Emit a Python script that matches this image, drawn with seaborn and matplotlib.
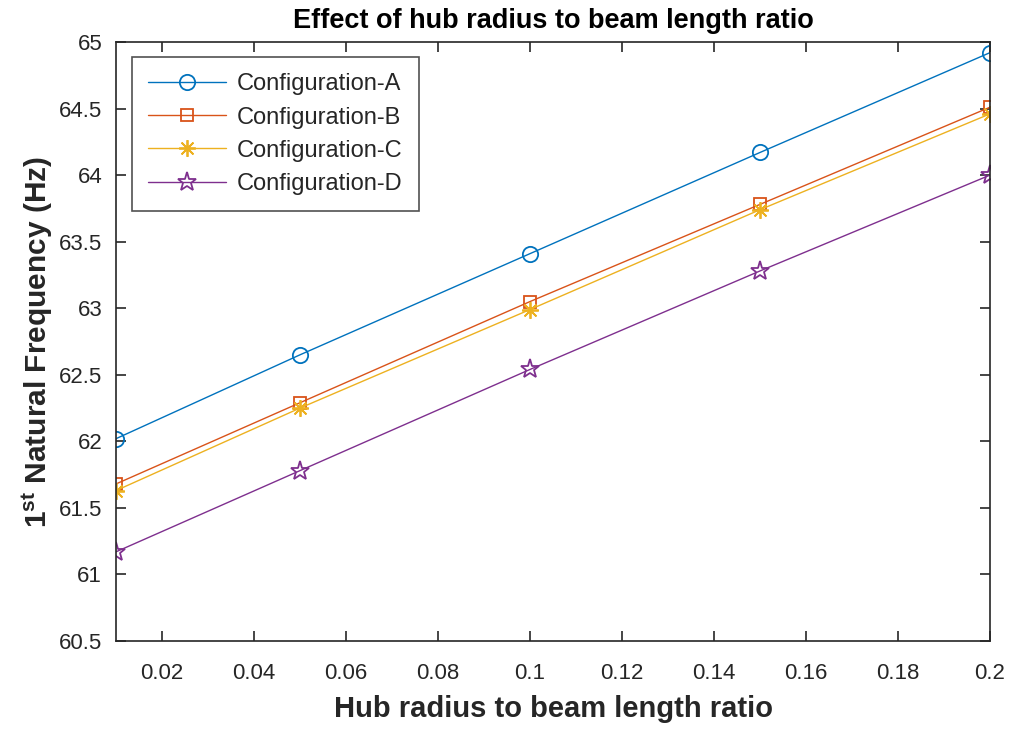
import matplotlib
matplotlib.use("Agg")
import matplotlib.pyplot as plt
import matplotlib.ticker as mticker
import numpy as np
import pandas as pd
import seaborn as sns

# Hub radius to beam length ratio (x) and first natural frequency (Hz) per configuration
ratio = [0.01, 0.05, 0.10, 0.15, 0.20]
freq_a = [62.02, 62.65, 63.41, 64.17, 64.92]
freq_b = [61.68, 62.29, 63.05, 63.78, 64.51]
freq_c = [61.63, 62.25, 62.99, 63.74, 64.46]
freq_d = [61.17, 61.78, 62.54, 63.28, 64.00]
labels = ["Configuration-A", "Configuration-B", "Configuration-C", "Configuration-D"]

x_ticks = [0.02, 0.04, 0.06, 0.08, 0.10, 0.12, 0.14, 0.16, 0.18, 0.20]
y_ticks = [60.5, 61, 61.5, 62, 62.5, 63, 63.5, 64, 64.5, 65]

colors = ["#0072BD", "#D95319", "#EDB120", "#7E2F8E"]
markers = ["o", "s", (8, 2, 0), "*"]
sizes = [11, 9, 12, 14]

sns.set_theme(style="white")
plt.rcParams["font.family"] = ["Liberation Sans", "DejaVu Sans"]
plt.rcParams["mathtext.fontset"] = "custom"
plt.rcParams["mathtext.rm"] = "Liberation Sans"
plt.rcParams["mathtext.bf"] = "Liberation Sans:bold"

df = pd.DataFrame({
    "ratio": ratio * 4,
    "freq": freq_a + freq_b + freq_c + freq_d,
    "config": np.repeat(labels, len(ratio)),
})

fig = plt.figure(figsize=(10.15, 7.3), dpi=100)
ax = fig.add_axes([0.1143, 0.1219, 0.8611, 0.8206])

for lab, col, mk, ms in zip(labels, colors, markers, sizes):
    sub = df[df["config"] == lab]
    sns.lineplot(data=sub, x="ratio", y="freq", ax=ax, color=col, marker=mk,
                 markersize=ms, markerfacecolor="none", markeredgecolor=col,
                 markeredgewidth=1.3, linewidth=1.0, label=lab, legend=False)

ax.set_xlim(0.01, 0.2)
ax.set_ylim(60.5, 65)
ax.set_xticks(x_ticks)
ax.set_yticks(y_ticks)
ax.xaxis.set_major_formatter(mticker.FuncFormatter(lambda v, p: f"{v:g}"))
ax.yaxis.set_major_formatter(mticker.FuncFormatter(lambda v, p: f"{v:g}"))

axis_col = "#262626"
for s in ax.spines.values():
    s.set_visible(True)
    s.set_color(axis_col)
    s.set_linewidth(1.2)
ax.tick_params(direction="in", length=7, width=1.2, color=axis_col,
               labelcolor=axis_col, labelsize=16, top=True, right=True,
               bottom=True, left=True)
ax.tick_params(axis="x", pad=16)
ax.tick_params(axis="y", pad=10)

ax.set_xlabel("Hub radius to beam length ratio", fontsize=21, fontweight="bold",
              color=axis_col, labelpad=8)
ax.set_ylabel(r"1$^{\bf st}$ Natural Frequency (Hz)", fontsize=21.5,
              fontweight="bold", color=axis_col, labelpad=3)
ax.set_title("Effect of hub radius to beam length ratio", fontsize=19.5,
             fontweight="bold", color="black", pad=10)

leg = ax.legend(loc="upper left", bbox_to_anchor=(0.018, 0.975), fontsize=17,
                frameon=True, fancybox=False, edgecolor=axis_col,
                handlelength=3.3, borderpad=0.7, labelspacing=0.47,
                handletextpad=0.45, borderaxespad=0)
leg.get_frame().set_linewidth(1.2)

fig.savefig("out.png", dpi=100)
